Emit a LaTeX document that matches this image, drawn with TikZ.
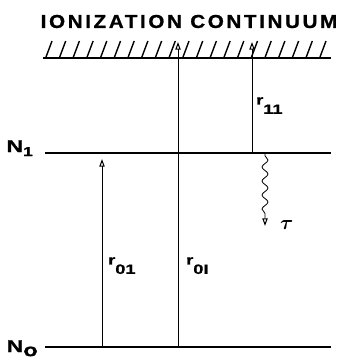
\documentclass[tikz,border=0pt]{standalone}
\usepackage{fontspec}
\usepackage{amsmath}
\setsansfont{Liberation Sans}
\newfontfamily\titlefont[LetterSpace=14,FakeStretch=1.1,FakeBold=1]{Liberation Sans}
\newfontfamily\labfont[FakeStretch=1.35,FakeBold=1]{Liberation Sans}
\usetikzlibrary{arrows.meta,decorations.pathmorphing}

\tikzset{
  level/.style={line width=1.6pt},
  hatch/.style={line width=1.2pt},
  trans/.style={line width=0.7pt, -{Triangle[open,length=6.5pt,width=4.5pt,line width=0.9pt]}},
  decay/.style={trans, decorate,
    decoration={snake, amplitude=0.09cm, segment length=0.42cm, pre length=0.05cm, post length=0.22cm}},
  rate/.style={anchor=north west, inner sep=0pt, font=\labfont\bfseries\fontsize{11.5}{11.5}\selectfont},
  pop/.style={anchor=base east, inner sep=0pt, font=\labfont\bfseries\fontsize{14.5}{14.5}\selectfont},
}
\newcommand{\ratelab}[1]{r\raisebox{-8pt}{#1}}
\newcommand{\poplab}[2]{N\raisebox{-3.5pt}{\fontsize{#2}{#2}\selectfont #1}}

\begin{document}
\begin{tikzpicture}[x=0.03cm,y=-0.03cm]
    \useasboundingbox (0,0) rectangle (350,364);
    \node[inner sep=0pt, font=\titlefont\bfseries\fontsize{16}{16}\selectfont] (title) at (189,21.5) {IONIZATION CONTINUUM};
    % levels
    \coordinate (cl) at (43,58);   \coordinate (cr) at (331,58);
    \coordinate (n1l) at (45,153); \coordinate (n1r) at (331,153);
    \coordinate (n0l) at (45,347); \coordinate (n0r) at (331,347);
    \draw[level] (cl) -- (cr);
    \draw[level] (n1l) -- (n1r);
    \draw[level] (n0l) -- (n0r);
    \foreach \x in {0,...,20}
        \draw[hatch] ({46+13.7*\x},57) -- ++(6,-16);
    \node[pop] (N1) at (33,152) {\poplab{1}{11}};
    \node[pop] (N0) at (38,352) {\poplab{o}{15}};
    % transitions
    \coordinate (a1) at (102,347); \coordinate (b1) at (102,159);
    \coordinate (a2) at (178,347); \coordinate (b2) at (178,42);
    \coordinate (a3) at (252,153); \coordinate (b3) at (252,42);
    \draw[trans] (a1) -- (b1);
    \draw[trans] (a2) -- (b2);
    \draw[trans] (a3) -- (b3);
    \node[rate] (r01) at (108,257) {\ratelab{01}};
    \node[rate] (r0I) at (186,257) {\ratelab{0I}};
    \node[rate] (r11) at (256,97) {\ratelab{11}};
    % decay
    \coordinate (w0) at (265,154);
    \coordinate (w1) at (265,226);
    \draw[decay] (w0) -- (w1);
    \node[anchor=base west, inner sep=0pt, font=\fontsize{18}{18}\selectfont] (tau) at (280,229) {$\boldsymbol{\tau}$};
\end{tikzpicture}
\end{document}
